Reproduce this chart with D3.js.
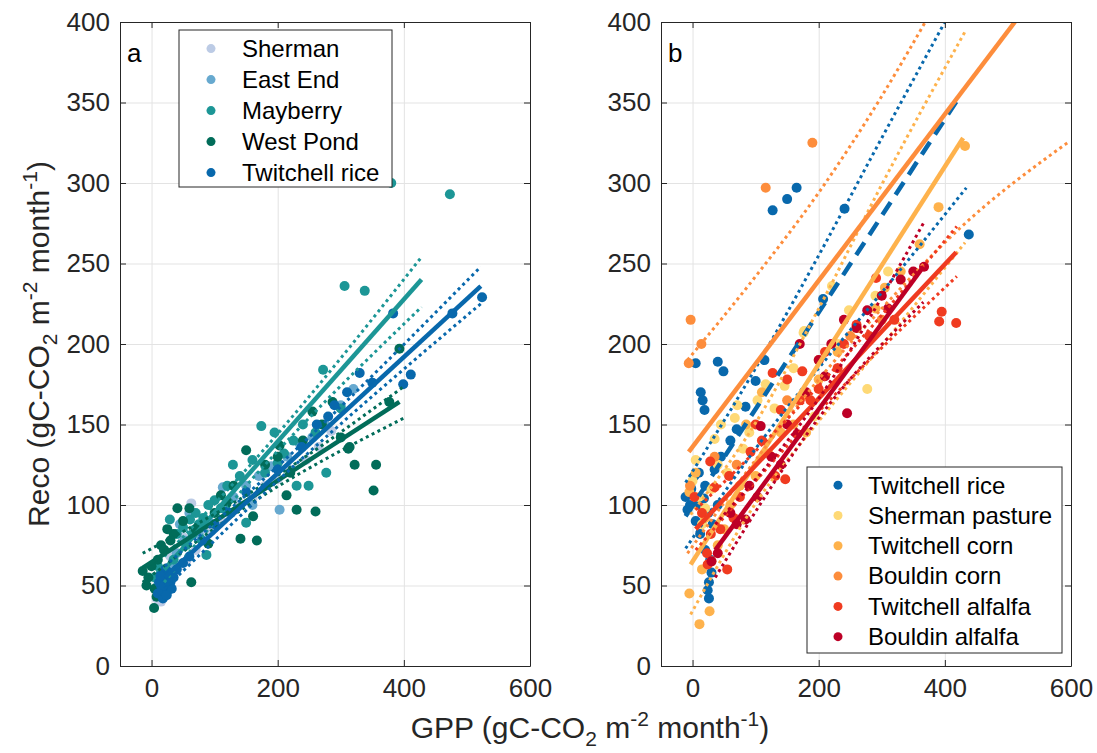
<!DOCTYPE html>
<html>
<head>
<meta charset="utf-8">
<script src="https://cdn.jsdelivr.net/npm/d3@7"></script>
<style>
  body { margin: 0; background: #fff; }
  text { font-family: "Liberation Sans", Arial, Helvetica, sans-serif; }
</style>
</head>
<body>
<div id="chart"></div>
<script>
// ---- data (GPP, Reco) ----
var xTicks = [0, 200, 400, 600]
var yTicks = [0, 50, 100, 150, 200, 250, 300, 350, 400]

// panel a scatter
var shermanA = [[8,42],[12,48],[18,52],[22,45],[28,55],[35,58],[42,62],[55,65],[63,101],[70,72],[85,78],[95,84],[110,90],[125,95],[140,100],[160,104],[180,112],[200,116],[220,122],[245,128],[265,136],[285,146],[30,68],[50,80],[15,40]]
var eastEndA = [[10,50],[18,57],[25,46],[32,62],[40,70],[52,78],[60,95],[75,82],[90,90],[113,111],[130,105],[150,112],[170,118],[190,124],[203,97],[215,130],[235,138],[255,142],[275,150],[300,162],[320,172],[160,100],[45,88]]
var mayberryA = [[380,300],[473,293],[306,236],[338,233],[272,184],[174,149],[195,145],[129,125],[100,103],[277,120],[249,112],[87,69],[150,89],[29,91],[61,91],[82,92],[240,150],[225,140],[210,132],[160,128],[140,118],[120,112],[110,98],[90,100],[70,95],[50,86],[40,82],[20,72],[10,62],[5,55],[15,58],[35,66],[55,75],[65,82],[75,88],[180,120],[200,126],[260,145],[300,160],[230,112]]
var westPondA = [[287,164],[377,164],[393,197],[312,135],[322,125],[356,125],[352,109],[260,96],[230,97],[214,106],[167,78],[141,79],[150,134],[161,93],[41,98],[60,98],[63,52],[4,36],[-14,59],[-5,55],[0,62],[10,66],[20,72],[30,78],[35,82],[25,85],[15,75],[5,48],[8,43],[-8,50],[50,90],[70,85],[100,95],[120,102],[130,112],[180,125],[200,130],[240,140],[255,158],[203,137],[314,136],[270,150],[220,120],[110,106],[90,76],[300,142]]
var twitchellRiceA = [[10,45],[15,50],[20,55],[25,48],[30,52],[18,42],[22,60],[28,58],[35,55],[12,52],[16,47],[24,44],[32,48],[40,60],[20,50],[26,53],[14,56],[383,219],[477,219],[524,229],[330,182],[399,175],[411,181],[262,150],[238,136],[290,162],[310,170],[200,122],[150,108],[120,96],[100,88],[80,78],[60,68],[50,64],[280,155],[350,176]]

// panel a fits and confidence bounds
var mayberryFit = [[20,60],[428,240]]
var mayberryUp = [[20,68],[150,122],[428,254]]
var mayberryLo = [[20,52],[150,112],[428,223]]
var westPondFit = [[-14,61],[393,164]]
var westPondUp = [[-14,70],[150,106],[398,173]]
var westPondLo = [[-14,52],[150,99],[400,154]]
var riceFitA = [[21,55],[522,236]]
var riceUpA = [[21,62],[200,124],[522,248]]
var riceLoA = [[21,48],[200,115],[522,225]]

// panel b scatter
var riceB = [[-11,105],[-8,97],[-4,100],[127,283],[150,290],[165,297],[241,284],[438,268],[5,188],[40,189],[49,183],[13,170],[16,165],[19,159],[84,161],[100,177],[114,190],[207,228],[26,42],[24,47],[26,52],[30,58],[28,66],[20,72],[12,82],[5,90],[3,118],[10,120],[20,112],[35,122],[45,130],[60,140],[70,147],[25,95],[32,88],[40,100],[18,104],[-2,110],[8,100]]
var shermanPastureB = [[277,172],[71,162],[45,150],[35,141],[5,128],[67,154],[116,175],[103,165],[146,174],[177,208],[193,155],[221,236],[248,221],[176,207],[0,115],[10,105],[20,98],[30,110],[55,120],[80,135],[90,145],[130,160],[160,185],[200,190],[230,200],[260,210],[290,230],[310,245],[15,88],[40,125]]
var twCornB = [[-5,45],[11,26],[27,34],[432,323],[305,235],[-5,108],[20,92],[40,75],[50,85],[60,100],[75,112],[100,118],[120,132],[140,145],[160,150],[180,168],[200,178],[230,195],[260,210],[290,222],[330,245],[360,262],[390,285],[15,60],[30,65],[5,120],[85,150],[110,170],[180,145]]
var bouldinCornB = [[-3,215],[14,200],[-6,188],[116,297],[190,325],[-4,112],[35,130],[70,125],[150,165],[250,205],[300,215]]
var twAlfB = [[395,220],[391,214],[418,213],[291,241],[127,182],[150,178],[174,183],[187,165],[170,165],[140,159],[210,195],[92,133],[28,127],[35,111],[3,105],[147,116],[131,118],[58,118],[23,70],[55,60],[24,63],[44,85],[29,82],[240,200],[260,212],[280,205],[320,215],[200,172],[230,185],[110,140],[75,105],[15,95],[65,92],[100,150]]
var boAlfB = [[367,248],[277,221],[245,157],[108,149],[166,144],[210,180],[103,105],[84,91],[40,70],[260,210],[300,230],[330,240],[200,190],[180,170],[150,150],[125,130],[60,95],[70,88],[140,125],[220,200],[240,215],[310,222],[350,245],[170,200],[30,65],[90,112]]

// panel b fits and confidence bounds
var riceFitB = [[-11,93],[419,351]]
var riceUpB = [[-11,114],[100,185],[200,255],[300,328],[400,400]]
var riceLoB = [[-11,73],[100,135],[200,185],[300,232],[434,297]]
var twCornFit = [[-3,63],[429,328]]
var twCornUp = [[-3,94],[100,151],[200,222],[300,299],[432,394]]
var twCornLo = [[-3,32],[100,101],[200,152],[300,199],[432,263]]
var boCornFit = [[-6,133],[511,400]]
var boCornUp = [[-8,190],[100,242],[200,294],[297,352],[369,400]]
var boCornLo = [[-8,70],[100,128],[200,178],[300,222],[424,272],[598,326]]
var twAlfFit = [[5,85],[418,257]]
var twAlfUp = [[5,97],[200,174],[419,273]]
var twAlfLo = [[5,72],[200,158],[419,242]]
var boAlfFit = [[36,72],[366,248]]
var boAlfUp = [[36,88],[200,166],[366,275]]
var boAlfLo = [[36,55],[200,154],[366,226]]

var namesA = ["Sherman","East End","Mayberry","West Pond","Twitchell rice"]
var colorsA = ["#bccbe5","#67a9cf","#1c9696","#016c59","#0868ac"]
var namesB = ["Twitchell rice","Sherman pasture","Twitchell corn","Bouldin corn","Twitchell alfalfa","Bouldin alfalfa"]
var colorsB = ["#0868ac","#fed976","#feb24c","#fd8d3c","#f03b20","#bd0026"]

// ---- drawing ----
var W = 1097, H = 753
var plotTop = 22, plotBottom = 666
var svg = d3.select("#chart").append("svg").attr("width", W).attr("height", H)

function makePanel(left, right) {
	var x = d3.scaleLinear().domain([-50, 600]).range([left, right])
	var y = d3.scaleLinear().domain([0, 400]).range([plotBottom, plotTop])
	var g = svg.append("g")
	// grid
	g.append("g").attr("transform", "translate(0," + plotBottom + ")")
		.call(d3.axisBottom(x).tickValues(xTicks).tickSize(-(plotBottom - plotTop)).tickFormat(""))
		.call(a => a.select(".domain").remove())
		.selectAll("line").attr("stroke", "#e3e3e3")
	g.append("g").attr("transform", "translate(" + left + ",0)")
		.call(d3.axisLeft(y).tickValues(yTicks).tickSize(-(right - left)).tickFormat(""))
		.call(a => a.select(".domain").remove())
		.selectAll("line").attr("stroke", "#e3e3e3")
	return {x: x, y: y, g: g, left: left, right: right}
}

function drawAxes(p) {
	var g = p.g
	var bx = g.append("g").attr("transform", "translate(0," + plotBottom + ")")
		.call(d3.axisBottom(p.x).tickValues(xTicks).tickSize(-6).tickSizeOuter(0).tickPadding(13))
	var tx = g.append("g").attr("transform", "translate(0," + plotTop + ")")
		.call(d3.axisTop(p.x).tickValues(xTicks).tickSize(-6).tickSizeOuter(0).tickFormat(""))
	var ly = g.append("g").attr("transform", "translate(" + p.left + ",0)")
		.call(d3.axisLeft(p.y).tickValues(yTicks).tickSize(-6).tickSizeOuter(0).tickPadding(10))
	var ry = g.append("g").attr("transform", "translate(" + p.right + ",0)")
		.call(d3.axisRight(p.y).tickValues(yTicks).tickSize(-6).tickSizeOuter(0).tickFormat(""))
	;[bx, tx, ly, ry].forEach(function(a) {
		a.selectAll("path,line").attr("stroke", "#262626").attr("stroke-width", 1)
		a.selectAll("text").attr("fill", "#262626").attr("font-size", "26px")
			.attr("font-family", "'Liberation Sans', Arial, Helvetica, sans-serif")
	})
}

function dots(p, data, color) {
	p.g.append("g").selectAll("circle").data(data).enter().append("circle")
		.attr("cx", d => p.x(d[0])).attr("cy", d => p.y(d[1]))
		.attr("r", 5).attr("fill", color)
}

function line(p, data, color, kind) {
	var gen = d3.line().x(d => p.x(d[0])).y(d => p.y(d[1])).curve(d3.curveMonotoneX)
	var path = p.g.append("path").datum(data).attr("d", gen)
		.attr("fill", "none").attr("stroke", color)
	if (kind == "solid") path.attr("stroke-width", 4.5)
	else if (kind == "dash") path.attr("stroke-width", 4.5).attr("stroke-dasharray", "15,9")
	else path.attr("stroke-width", 3).attr("stroke-dasharray", "3,3.5")
}

function legend(x0, y0, w, h, rowH, names, colors, mx, tx) {
	var g = svg.append("g")
	g.append("rect").attr("x", x0).attr("y", y0).attr("width", w).attr("height", h)
		.attr("fill", "#fff").attr("stroke", "#262626").attr("stroke-width", 1)
	names.forEach(function(n, i) {
		var cy = y0 + rowH * (i + 0.6)
		g.append("circle").attr("cx", mx).attr("cy", cy).attr("r", 4.5).attr("fill", colors[i])
		g.append("text").attr("x", tx).attr("y", cy).attr("dy", "0.35em")
			.attr("font-size", "24px").attr("fill", "#000").text(n)
	})
}

var pa = makePanel(120, 530)
var pb = makePanel(661, 1071)

// clip so that lines that run past 400 stop at the box
svg.append("clipPath").attr("id", "clipA").append("rect").attr("x", 120).attr("y", plotTop).attr("width", 410).attr("height", plotBottom - plotTop)
svg.append("clipPath").attr("id", "clipB").append("rect").attr("x", 661).attr("y", plotTop).attr("width", 410).attr("height", plotBottom - plotTop)
pa.g = pa.g.append("g").attr("clip-path", "url(#clipA)")
pb.g = pb.g.append("g").attr("clip-path", "url(#clipB)")

// panel a
;[shermanA, eastEndA, mayberryA, westPondA, twitchellRiceA].forEach(function(d, i) { dots(pa, d, colorsA[i]) })
line(pa, mayberryUp, colorsA[2], "dot"); line(pa, mayberryLo, colorsA[2], "dot"); line(pa, mayberryFit, colorsA[2], "solid")
line(pa, westPondUp, colorsA[3], "dot"); line(pa, westPondLo, colorsA[3], "dot"); line(pa, westPondFit, colorsA[3], "solid")
line(pa, riceUpA, colorsA[4], "dot"); line(pa, riceLoA, colorsA[4], "dot"); line(pa, riceFitA, colorsA[4], "solid")

// panel b
;[riceB, shermanPastureB, twCornB, bouldinCornB, twAlfB, boAlfB].forEach(function(d, i) { dots(pb, d, colorsB[i]) })
line(pb, riceUpB, colorsB[0], "dot"); line(pb, riceLoB, colorsB[0], "dot"); line(pb, riceFitB, colorsB[0], "dash")
line(pb, twCornUp, colorsB[2], "dot"); line(pb, twCornLo, colorsB[2], "dot"); line(pb, twCornFit, colorsB[2], "solid")
line(pb, boCornUp, colorsB[3], "dot"); line(pb, boCornLo, colorsB[3], "dot"); line(pb, boCornFit, colorsB[3], "solid")
line(pb, twAlfUp, colorsB[4], "dot"); line(pb, twAlfLo, colorsB[4], "dot"); line(pb, twAlfFit, colorsB[4], "solid")
line(pb, boAlfUp, colorsB[5], "dot"); line(pb, boAlfLo, colorsB[5], "dot"); line(pb, boAlfFit, colorsB[5], "solid")

pa.g = svg.append("g"); drawAxes(pa)
pb.g = svg.append("g"); drawAxes(pb)

// panel letters
svg.append("text").attr("x", 127).attr("y", 62).attr("font-size", "26px").attr("fill", "#000").text("a")
svg.append("text").attr("x", 668).attr("y", 62).attr("font-size", "26px").attr("fill", "#000").text("b")

legend(179, 30, 213, 157, 31, namesA, colorsA, 211, 242)
legend(807, 467, 255, 186, 30.3, namesB, colorsB, 838, 868)

// axis titles with sub/superscripts
function unitLabel(t, name) {
	t.attr("font-size", "30px").attr("fill", "#262626")
	t.append("tspan").text(name + " (gC-CO")
	t.append("tspan").attr("font-size", "21px").attr("dy", 8).text("2")
	t.append("tspan").attr("dy", -8).text(" m")
	t.append("tspan").attr("font-size", "21px").attr("dy", -12).text("-2")
	t.append("tspan").attr("dy", 12).text(" month")
	t.append("tspan").attr("font-size", "21px").attr("dy", -12).text("-1")
	t.append("tspan").attr("dy", 12).text(")")
}
unitLabel(svg.append("text").attr("x", 590).attr("y", 738).attr("text-anchor", "middle"), "GPP")
unitLabel(svg.append("text").attr("transform", "translate(49,344) rotate(-90)").attr("text-anchor", "middle"), "Reco")
</script>
</body>
</html>
